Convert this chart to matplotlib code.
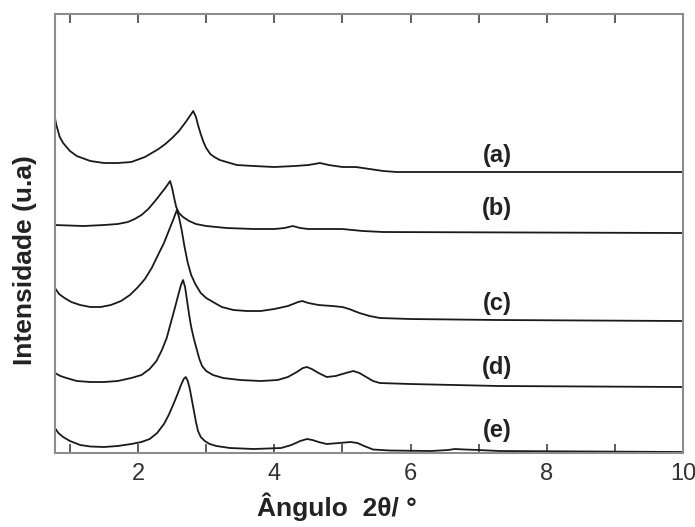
import matplotlib
matplotlib.use('Agg')
import matplotlib.pyplot as plt
from matplotlib.ticker import MultipleLocator

plt.rc('font', **{'family': 'sans-serif', 'sans-serif': ['Liberation Sans', 'DejaVu Sans']})

# XRD patterns, 2theta (deg) vs intensity (a.u., curves stacked)
x_a = [0.78, 0.80, 0.85, 0.90, 1.00, 1.10, 1.30, 1.50, 1.70, 1.90, 2.10, 2.20, 2.30, 2.40,
       2.50, 2.60, 2.70, 2.76, 2.81, 2.85, 2.88, 2.92, 2.96, 3.00, 3.06, 3.12, 3.20, 3.30,
       3.45, 3.70, 4.00, 4.30, 4.50, 4.67, 4.80, 5.00, 5.20, 5.40, 5.60, 5.80, 6.50, 8.00, 10.0]
y_a = [335, 328, 316, 310, 302, 297, 292, 290, 290, 291, 296, 300, 304, 309,
       315, 322, 331, 337, 342, 336, 328, 319, 311, 305, 299, 296, 293, 291,
       288, 287, 286, 287, 288, 290, 288, 286, 286, 284, 282, 281, 281, 281, 281]

x_b = [0.78, 1.20, 1.50, 1.70, 1.85, 1.95, 2.05, 2.15, 2.25, 2.33, 2.40, 2.44, 2.47, 2.50,
       2.53, 2.56, 2.60, 2.66, 2.75, 2.85, 3.00, 3.30, 3.70, 4.00, 4.15, 4.27, 4.38, 4.50,
       5.00, 5.30, 5.60, 10.0]
y_b = [228, 227, 228, 229, 231, 234, 238, 244, 252, 259, 265, 269, 272, 265,
       255, 246, 240, 236, 232, 229, 227, 225, 224, 224, 225, 227, 225, 224,
       224, 222, 221, 220]

x_c = [0.78, 0.84, 0.92, 1.02, 1.15, 1.30, 1.45, 1.60, 1.75, 1.88, 2.00, 2.10, 2.20, 2.30,
       2.38, 2.45, 2.52, 2.57, 2.60, 2.64, 2.68, 2.73, 2.78, 2.84, 2.92, 3.00, 3.10, 3.23,
       3.40, 3.60, 3.80, 4.00, 4.20, 4.35, 4.41, 4.50, 4.65, 4.85, 5.00, 5.10, 5.25, 5.40,
       5.55, 6.00, 7.30, 10.0]
y_c = [165, 159, 155, 151, 148, 146, 146, 148, 152, 158, 166, 174, 185, 199,
       210, 222, 234, 243, 236, 223, 207, 190, 178, 169, 160, 155, 151, 146,
       143, 142, 142, 144, 147, 151, 152, 150, 148, 147, 146, 144, 140, 137,
       135, 134, 133, 132]

x_d = [0.78, 0.86, 0.95, 1.10, 1.30, 1.50, 1.70, 1.90, 2.05, 2.17, 2.27, 2.35, 2.42, 2.48,
       2.54, 2.59, 2.63, 2.66, 2.69, 2.72, 2.75, 2.78, 2.82, 2.86, 2.90, 2.94, 3.00, 3.10,
       3.25, 3.50, 3.80, 4.05, 4.20, 4.33, 4.42, 4.48, 4.55, 4.65, 4.77, 4.90, 5.05, 5.16,
       5.25, 5.35, 5.45, 5.55, 6.00, 7.30, 10.0]
y_d = [80, 77, 75, 72, 71, 71, 72, 75, 78, 84, 92, 103, 115, 130,
       145, 158, 168, 173, 166, 152, 138, 126, 114, 104, 94, 87, 82, 78,
       75, 73, 72, 73, 76, 81, 85, 86, 84, 80, 76, 77, 80, 82,
       80, 76, 72, 70, 69, 67, 66]

x_e = [0.78, 0.83, 0.90, 1.00, 1.15, 1.30, 1.50, 1.70, 1.90, 2.05, 2.17, 2.28, 2.38, 2.45,
       2.52, 2.58, 2.63, 2.67, 2.70, 2.73, 2.76, 2.79, 2.82, 2.85, 2.88, 2.92, 2.98, 3.05,
       3.15, 3.35, 3.70, 4.10, 4.25, 4.38, 4.48, 4.56, 4.65, 4.77, 4.95, 5.12, 5.22, 5.32,
       5.45, 5.70, 6.30, 6.55, 6.65, 6.80, 7.00, 7.30, 10.0]
y_e = [25, 20, 16, 12, 8, 6.5, 6, 7, 9, 11, 14, 20, 29, 38,
       49, 59, 68, 74, 76, 72, 64, 53, 42, 31, 22, 16, 12, 9,
       7, 5, 4, 5, 8, 12, 14, 13, 11, 9, 10, 11, 10, 7,
       3.5, 2.5, 2, 3, 4, 3.5, 3, 2, 1]

curves = [(x_a, y_a), (x_b, y_b), (x_c, y_c), (x_d, y_d), (x_e, y_e)]
names = ['(a)', '(b)', '(c)', '(d)', '(e)']
label_x = 7.27
label_y = [298, 245, 150, 86, 23]

spine_col = '#8c8c8c'

fig = plt.figure(figsize=(6.95, 5.27), dpi=100)
ax = fig.add_axes([0.0791, 0.1404, 0.9036, 0.833])

for xx, yy in curves:
    ax.plot(xx, yy, color='#1a1a1a', lw=1.3)

for name, ly in zip(names, label_y):
    ax.text(label_x, ly, name, fontsize=17, fontweight='bold', color='#222222',
            ha='center', va='center')

ax.set_xlim(0.78, 10)
ax.set_ylim(0, 439)
ax.xaxis.set_major_locator(MultipleLocator(2))
ax.xaxis.set_minor_locator(MultipleLocator(1))
ax.set_yticks([])
ax.tick_params(axis='x', which='both', direction='in', top=True, length=6.5,
               width=1.1, color='#333333')
ax.tick_params(axis='x', which='major', labelsize=17, labelcolor='#333333', pad=7)
for s in ax.spines.values():
    s.set_color(spine_col)
    s.set_linewidth(1.5)

ax.set_xlabel('Ângulo  2θ/ °', fontsize=19, fontweight='bold', color='#222222')
ax.xaxis.set_label_coords(0.449, -0.09)
ax.xaxis.label.set_va('top')
ax.set_ylabel('Intensidade (u.a)', fontsize=19, fontweight='bold', color='#222222')
ax.yaxis.set_label_coords(-0.029, 0.44)

plt.savefig('out.png', dpi=100)
